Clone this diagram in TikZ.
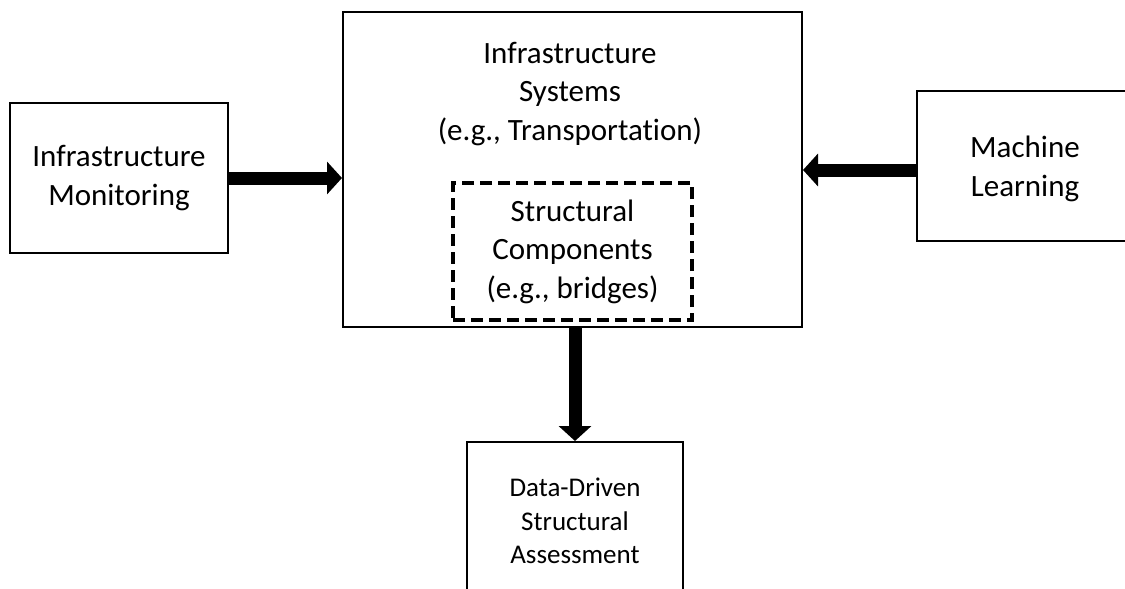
\documentclass[tikz,border=0pt]{standalone}
\usepackage{fontspec}
\setmainfont{Carlito}[Ligatures={TeX,NoCommon}]
\usetikzlibrary{arrows.meta}
\begin{document}
\begin{tikzpicture}[x=1pt,y=-1pt,
  box/.style={draw,line width=2pt,inner sep=0pt,align=center,font=\fontsize{31}{38.5}\selectfont},
  dashbox/.style={draw,line width=4pt,dash pattern=on 12pt off 6pt,inner sep=0pt,align=center,font=\fontsize{31}{38.5}\selectfont},
  txt/.style={align=center,inner sep=0pt,font=\fontsize{31}{38.5}\selectfont},
  bigarrow/.style={line width=13pt,-{Triangle[length=15pt,width=32pt]}},
]
\useasboundingbox[fill=white] (0,0) rectangle (1125,589);
\clip (0,0) rectangle (1125,589);
\node[box,minimum width=218pt,minimum height=150pt] (mon) at (119,178) {Infrastructure\\Monitoring};
\node[box,minimum width=459pt,minimum height=315pt] (sys) at (572.5,169.5) {};
\node[txt] (systxt) at (570,94) {Infrastructure\\Systems\\(e.g., Transportation)};
\node[dashbox,minimum width=239pt,minimum height=137pt] (comp) at (572.5,251.5) {Structural\\Components\\(e.g., bridges)};
\node[box,minimum width=223pt,minimum height=150pt] (ml) at (1028.5,166) {};
\node[txt] (mltxt) at (1025,169) {Machine\\Learning};
\node[box,minimum width=216pt,minimum height=158pt,font=\fontsize{27}{33.5}\selectfont] (out) at (575,521) {Data-Driven\\Structural\\Assessment};
\draw[bigarrow] (mon.east) -- (mon.east -| sys.west);
\draw[bigarrow] ([yshift=-4pt]ml.west) -- ([yshift=-4pt]ml.west -| sys.east);
\draw[bigarrow] (out.north |- sys.south) -- (out.north);
\end{tikzpicture}
\end{document}
